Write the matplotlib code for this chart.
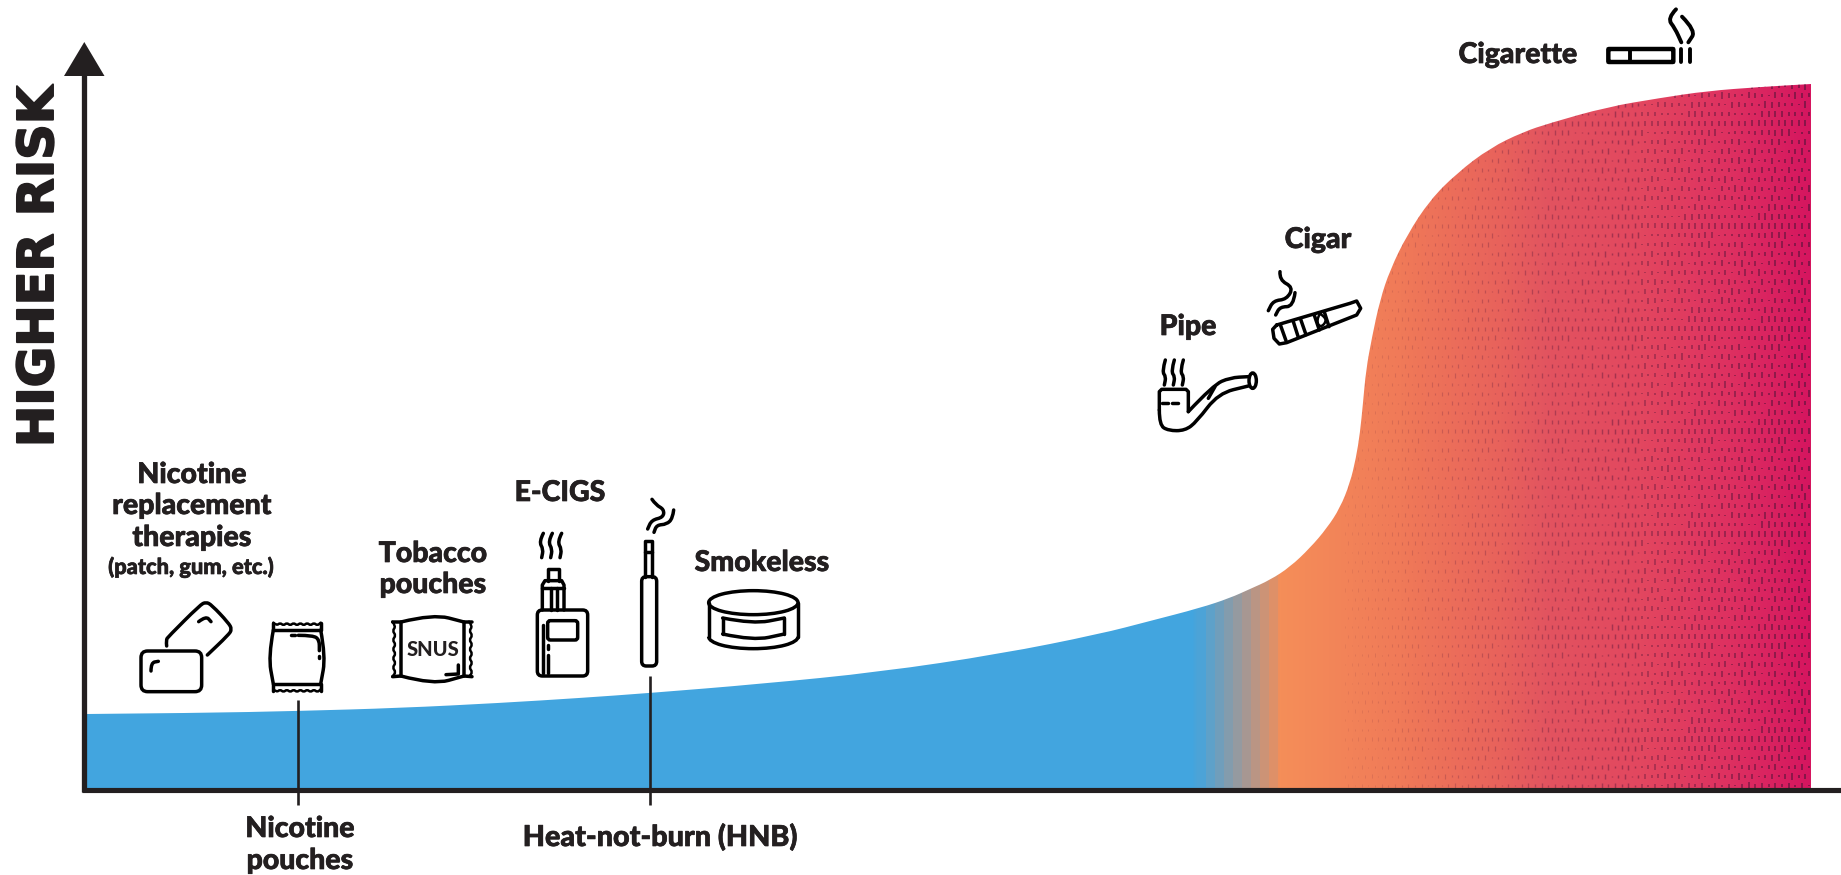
import numpy as np
import matplotlib
matplotlib.use("Agg")
import matplotlib.pyplot as plt
import matplotlib.patheffects as pe
from matplotlib.path import Path
from matplotlib.patches import PathPatch, FancyBboxPatch, Ellipse, Arc, Polygon
from matplotlib.colors import to_rgb

# risk curve (pixels of the original)
risk_x = [87, 200, 298, 400, 500, 580, 650, 760, 880, 1000, 1100, 1150, 1200, 1230, 1250, 1270, 1290,
          1310, 1327, 1340, 1350, 1356, 1360, 1363, 1366, 1372, 1380, 1390, 1407, 1430, 1457,
          1490, 1523, 1550, 1607, 1660, 1707, 1760, 1811]
risk_y = [714, 713, 711, 708, 703, 698, 693, 684, 672, 654, 634, 621, 608, 598, 589, 580, 567,
          548, 528, 508, 483, 458, 433, 403, 370, 337, 300, 270, 235, 200, 173,
          148, 132, 123, 107, 98, 91, 87, 84]

color_x = [87, 1192, 1280, 1400, 1500, 1550, 1640, 1730, 1811]
color_hex = ["#42A5DF", "#42A5DF", "#F58E58", "#F07A58", "#E8625C", "#E25360", "#E3475F", "#DE3061", "#D5155F"]

y_title = "HIGHER RISK"
text_color = "#231F20"
label_font = "Lato"
ICON_LW = 2.5

fig = plt.figure(figsize=(18.41, 8.75), dpi=100)
ax = fig.add_axes([0, 0, 1, 1])


def spline_path(xs, ys, close_y=None):
    # quadratic spline that passes close to the read points
    verts = [(xs[0], ys[0])]
    codes = [Path.MOVETO]
    for i in range(1, len(xs) - 1):
        verts += [(xs[i], ys[i]), ((xs[i] + xs[i + 1]) / 2, (ys[i] + ys[i + 1]) / 2)]
        codes += [Path.CURVE3, Path.CURVE3]
    verts.append((xs[-1], ys[-1]))
    codes.append(Path.LINETO)
    if close_y is not None:
        verts += [(xs[-1], close_y), (xs[0], close_y), (xs[0], ys[0])]
        codes += [Path.LINETO, Path.LINETO, Path.CLOSEPOLY]
    return Path(verts, codes)


def line(ox, oy, pts, smooth=False, lw=ICON_LW):
    # icon strokes are noted in 3x crop coordinates
    xs = [ox + p[0] / 3 for p in pts]
    ys = [oy + p[1] / 3 for p in pts]
    if smooth:
        p = spline_path(xs, ys)
    else:
        p = Path(list(zip(xs, ys)))
    ax.add_patch(PathPatch(p, fill=False, ec="black", lw=lw, capstyle="round", joinstyle="round", zorder=6))


def box(ox, oy, x0, y0, x1, y1, r, lw=ICON_LW):
    ax.add_patch(FancyBboxPatch((ox + x0 / 3, oy + y0 / 3), (x1 - x0) / 3, (y1 - y0) / 3,
                                boxstyle="round,pad=0,rounding_size=%f" % (r / 3),
                                fill=False, ec="black", lw=lw, zorder=6))


def wave_h(ox, oy, x0, x1, y, n):
    xs = np.linspace(x0, x1, 2 * n + 1)
    pts = [(xv, y + (5 if i % 2 else -4)) for i, xv in enumerate(xs)]
    line(ox, oy, pts, smooth=True, lw=1.8)


def wave_v(ox, oy, x, y0, y1, n):
    ys = np.linspace(y0, y1, 2 * n + 1)
    pts = [(x + (6 if i % 2 else -5), yv) for i, yv in enumerate(ys)]
    line(ox, oy, pts, smooth=True, lw=1.8)


def label(x, y, s, size=20.5):
    ax.text(x, y, s, ha="center", va="baseline", fontsize=size, fontweight="black",
            family=label_font, color=text_color, zorder=7,
            path_effects=[pe.withStroke(linewidth=0.5, foreground=text_color)])


# gradient area, clipped to the curve
area = spline_path(risk_x, risk_y, close_y=788)
cols = np.arange(87, 1811)
rgb_stops = np.array([to_rgb(c) for c in color_hex])
bands = cols.astype(float).copy()
mask = (cols >= 1197) & (cols < 1278)
bands[mask] = 1197 + np.floor((cols[mask] - 1197) / 9) * 9
strip = np.stack([np.interp(bands, color_x, rgb_stops[:, k]) for k in range(3)], axis=1)
im = ax.imshow(strip[np.newaxis, :, :], extent=(87, 1811, 788, 84), aspect="auto",
               interpolation="nearest", zorder=1)
clip = PathPatch(area, transform=ax.transData, fc="none", ec="none")
ax.add_patch(clip)
im.set_clip_path(clip)

# dark dash texture on the red part
dx, dy, dh, dc, dw = [], [], [], [], []
for j, yv in enumerate(np.arange(86, 790, 9.33)):
    for i, xv in enumerate(np.arange(1345 + (j % 2) * 3.33, 1811, 6.67)):
        t = (xv - 1345) / (1811 - 1345)
        code = (i * 7 + j * 13 + i * j) % 11
        dx.append(xv)
        dy.append(yv)
        dh.append((0.7 + code * 0.27) * (0.55 + 0.5 * t))
        dc.append((0.30, 0.08, 0.22, 0.08 + 0.55 * t ** 0.9))
        dw.append(0.7 + 0.6 * t)
dx, dy, dh = np.array(dx), np.array(dy), np.array(dh)
dashes = ax.vlines(dx, dy - dh, dy + dh, colors=dc, lw=dw, zorder=2)
dashes.set_clip_path(clip)

# axes
ax.plot([82, 1841], [790, 790], color=text_color, lw=3.7, solid_capstyle="butt", zorder=4)
ax.plot([84.3, 84.3], [792, 74], color=text_color, lw=3.8, solid_capstyle="butt", zorder=4)
ax.add_patch(Polygon([(84.3, 42), (64, 76), (104.5, 76)], fc=text_color, ec="none", zorder=4))
ax.text(39, 267, y_title, rotation=90, ha="center", va="center", fontsize=35.6,
        fontweight="bold", family="DejaVu Sans", color=text_color,
        path_effects=[pe.withStroke(linewidth=1.4, foreground=text_color)])

# leader lines
ax.plot([298, 298], [700, 805], color=text_color, lw=1.9, solid_capstyle="butt", zorder=5)
ax.plot([650, 650], [676, 805], color=text_color, lw=1.9, solid_capstyle="butt", zorder=5)

# labels
label(192, 483, "Nicotine")
label(192, 514, "replacement")
label(192, 546, "therapies")
label(191, 574, "(patch, gum, etc.)", size=15.7)
label(433, 562, "Tobacco")
label(433, 593, "pouches")
label(300, 837, "Nicotine")
label(300, 869, "pouches")
label(560, 501, "E-CIGS")
label(762, 571, "Smokeless")
label(660, 846, "Heat-not-burn (HNB)", size=20.7)
label(1318, 248, "Cigar")
label(1188, 335, "Pipe")
label(1518, 63, "Cigarette")

# --- icons ---
# patches
ox, oy = 100, 440
box(ox, oy, 123, 633, 305, 755, 20)
line(ox, oy, [(153, 693), (153, 668), (175, 664)], smooth=True)
line(ox, oy, [(200, 618), (198, 600), (205, 590), (300, 495), (318, 486), (335, 495), (385, 548),
              (396, 568), (385, 585), (322, 645)], smooth=True)
line(ox, oy, [(296, 545), (318, 528), (333, 545)], smooth=True)

# nicotine pouch
wave_h(ox, oy, 520, 662, 552, 7)
wave_h(ox, oy, 520, 662, 752, 7)
line(ox, oy, [(520, 550), (520, 570), (662, 570), (662, 550)])
line(ox, oy, [(520, 752), (520, 732), (662, 732), (662, 752)])
line(ox, oy, [(520, 570), (505, 650), (520, 732)], smooth=True)
line(ox, oy, [(662, 570), (677, 650), (662, 732)], smooth=True)
line(ox, oy, [(572, 586), (584, 586)])
line(ox, oy, [(595, 586), (640, 586), (658, 600), (658, 632)], smooth=True)
line(ox, oy, [(658, 648), (658, 654)])

# snus
wave_v(ox, oy, 882, 545, 710, 6)
wave_v(ox, oy, 1112, 545, 710, 6)
line(ox, oy, [(878, 546), (903, 546), (903, 708), (878, 710)])
line(ox, oy, [(1116, 546), (1092, 546), (1092, 708), (1116, 710)])
line(ox, oy, [(903, 546), (1000, 522), (1092, 546)], smooth=True)
line(ox, oy, [(903, 708), (1000, 734), (1092, 708)], smooth=True)
line(ox, oy, [(1038, 704), (1075, 702), (1075, 675)])
ax.text(100 + 998 / 3, 440 + 649 / 3, "SNUS", ha="center", va="baseline", fontsize=14.5,
        fontweight="black", family=label_font, color=text_color, zorder=7)

# e-cig
ox, oy = 480, 460
box(ox, oy, 172, 450, 323, 648, 15)
box(ox, oy, 203, 482, 293, 540, 8)
line(ox, oy, [(187, 450), (187, 375), (195, 362), (245, 362), (252, 375), (252, 450)])
line(ox, oy, [(187, 385), (252, 385)])
line(ox, oy, [(212, 385), (212, 450)])
line(ox, oy, [(232, 385), (232, 450)])
line(ox, oy, [(203, 362), (203, 327), (237, 327), (237, 362)])
line(ox, oy, [(190, 495), (190, 640)])
line(ox, oy, [(205, 556), (205, 568)])
line(ox, oy, [(205, 585), (205, 640)])
for wx in (185, 212, 240):
    line(ox, oy, [(wx + 5, 220), (wx - 8, 245), (wx + 5, 268), (wx, 293)], smooth=True)

# heat-not-burn
box(ox, oy, 485, 350, 530, 618, 14)
line(ox, oy, [(495, 350), (495, 242), (517, 242), (517, 350)])
line(ox, oy, [(495, 277), (517, 277)])
line(ox, oy, [(516, 118), (528, 135), (552, 148), (550, 172), (515, 180), (503, 207)], smooth=True)
line(ox, oy, [(581, 150), (578, 175), (560, 193), (530, 195), (522, 217)], smooth=True)

# smokeless tin
ax.add_patch(Ellipse((ox + 820 / 3, oy + 428 / 3), 268 / 3, 72 / 3, fill=False, ec="black", lw=ICON_LW, zorder=6))
line(ox, oy, [(686, 428), (686, 532)])
line(ox, oy, [(955, 428), (955, 532)])
ax.add_patch(Arc((ox + 820 / 3, oy + 530 / 3), 268 / 3, 72 / 3, theta1=0, theta2=180, ec="black", lw=ICON_LW, zorder=6))
line(ox, oy, [(728, 474), (820, 492), (913, 474)], smooth=True)
line(ox, oy, [(728, 522), (820, 542), (913, 522)], smooth=True)
line(ox, oy, [(728, 474), (728, 522)])
line(ox, oy, [(913, 474), (913, 522)])

# pipe
ox, oy = 1130, 210
line(ox, oy, [(88, 600), (88, 545), (95, 538), (168, 538), (175, 545), (175, 605)])
line(ox, oy, [(88, 600), (88, 645), (115, 662), (165, 662), (200, 635), (265, 550), (355, 528)], smooth=True)
line(ox, oy, [(175, 605), (250, 525), (300, 503), (355, 500)], smooth=True)
ax.add_patch(Ellipse((ox + 368 / 3, oy + 512 / 3), 22 / 3, 46 / 3, fill=False, ec="black", lw=ICON_LW, zorder=6))
line(ox, oy, [(235, 565), (255, 530)])
line(ox, oy, [(95, 578), (115, 578)])
line(ox, oy, [(125, 578), (145, 578)])
for wx in (103, 130, 157):
    line(ox, oy, [(wx + 3, 450), (wx - 7, 485), (wx + 5, 500), (wx, 525)], smooth=True)

# cigar
line(ox, oy, [(440, 345), (660, 280), (680, 273), (692, 295), (680, 315), (470, 398), (448, 402),
              (432, 385), (428, 358), (440, 345)])
line(ox, oy, [(452, 347), (468, 392)])
line(ox, oy, [(490, 335), (505, 382)])
line(ox, oy, [(512, 328), (528, 374)])
line(ox, oy, [(553, 316), (568, 360)])
line(ox, oy, [(583, 306), (597, 350)])
line(ox, oy, [(570, 310), (558, 332), (572, 354), (592, 330), (570, 310)], smooth=True, lw=1.8)
line(ox, oy, [(450, 185), (448, 210), (490, 232), (470, 268), (430, 272), (415, 302)], smooth=True)
line(ox, oy, [(495, 248), (490, 290), (450, 290), (437, 315)], smooth=True)

# cigarette
ox, oy = 1440, 0
box(ox, oy, 505, 147, 700, 186, 2, lw=3.2)
line(ox, oy, [(570, 147), (570, 186)], lw=2.8)
line(ox, oy, [(722, 146), (722, 186)], lw=2.8)
line(ox, oy, [(750, 146), (750, 186)], lw=2.8)
line(ox, oy, [(708, 28), (682, 55), (705, 85), (724, 127)], smooth=True, lw=2.8)
line(ox, oy, [(726, 50), (768, 92), (745, 127)], smooth=True, lw=2.8)

ax.set_xlim(0, 1841)
ax.set_ylim(875, 0)
ax.axis("off")
fig.savefig("out.png", dpi=100, facecolor="white")
